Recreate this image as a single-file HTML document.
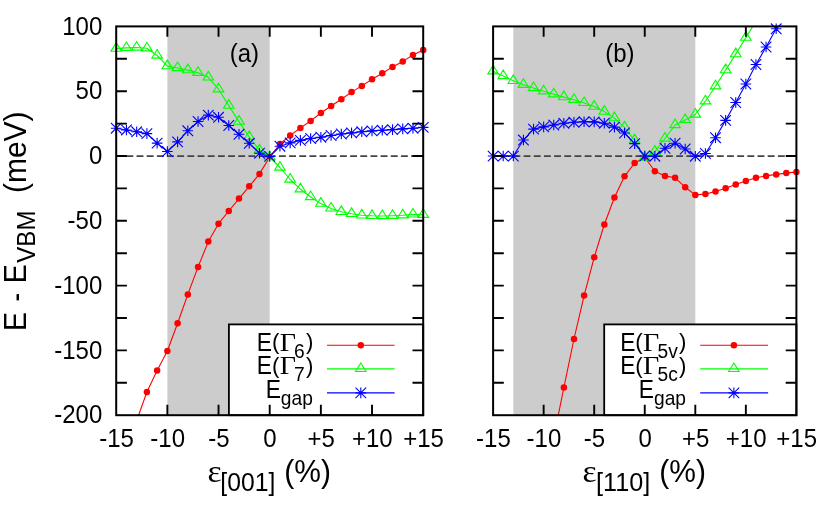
<!DOCTYPE html>
<html><head><meta charset="utf-8"><title>chart</title>
<style>
html,body{margin:0;padding:0;background:#fff;}
svg{display:block;will-change:transform;}
text{font-family:"Liberation Sans",sans-serif;fill:#000;}
text.sf,tspan.sf{font-family:"Liberation Serif",serif;}
</style></head><body>
<svg width="830" height="515" viewBox="0 0 830 515">
<rect width="830" height="515" fill="#fff"/>
<defs>
<clipPath id="ca"><rect x="116.2" y="26.4" width="307" height="388.8"/></clipPath>
<clipPath id="cb"><rect x="493.1" y="26.4" width="303.3" height="388.8"/></clipPath>
</defs>
<rect x="167.37" y="26.4" width="102.33" height="388.8" fill="#cccccc"/>
<rect x="513.32" y="26.4" width="181.98" height="388.8" fill="#cccccc"/>
<path d="M116.2,156.15H423.2" stroke="#444444" stroke-width="1.6" stroke-dasharray="6.9 3.27" fill="none"/>
<path d="M493.1,156.15H796.4" stroke="#444444" stroke-width="1.6" stroke-dasharray="6.9 3.27" fill="none"/>
<g clip-path="url(#ca)"><polyline points="136.67,420.6 146.9,392 157.13,370.5 167.37,351 177.6,323.2 187.83,294.4 198.07,266.9 208.3,241.6 218.53,223.7 228.77,211 239,198.6 249.23,186.3 259.47,173.9 269.7,157 279.93,144 290.17,135.4 300.4,128 310.63,120.9 320.87,113 331.1,106 341.33,99.3 351.57,92.1 361.8,85.9 372.03,79.3 382.27,73.2 392.5,66.9 402.73,61.4 412.97,55 423.2,50" fill="none" stroke="#ff0000" stroke-width="1.1" stroke-linejoin="round"/></g>
<circle cx="146.9" cy="392" r="3.25" fill="#ff0000"/>
<circle cx="157.13" cy="370.5" r="3.25" fill="#ff0000"/>
<circle cx="167.37" cy="351" r="3.25" fill="#ff0000"/>
<circle cx="177.6" cy="323.2" r="3.25" fill="#ff0000"/>
<circle cx="187.83" cy="294.4" r="3.25" fill="#ff0000"/>
<circle cx="198.07" cy="266.9" r="3.25" fill="#ff0000"/>
<circle cx="208.3" cy="241.6" r="3.25" fill="#ff0000"/>
<circle cx="218.53" cy="223.7" r="3.25" fill="#ff0000"/>
<circle cx="228.77" cy="211" r="3.25" fill="#ff0000"/>
<circle cx="239" cy="198.6" r="3.25" fill="#ff0000"/>
<circle cx="249.23" cy="186.3" r="3.25" fill="#ff0000"/>
<circle cx="259.47" cy="173.9" r="3.25" fill="#ff0000"/>
<circle cx="269.7" cy="157" r="3.25" fill="#ff0000"/>
<circle cx="279.93" cy="144" r="3.25" fill="#ff0000"/>
<circle cx="290.17" cy="135.4" r="3.25" fill="#ff0000"/>
<circle cx="300.4" cy="128" r="3.25" fill="#ff0000"/>
<circle cx="310.63" cy="120.9" r="3.25" fill="#ff0000"/>
<circle cx="320.87" cy="113" r="3.25" fill="#ff0000"/>
<circle cx="331.1" cy="106" r="3.25" fill="#ff0000"/>
<circle cx="341.33" cy="99.3" r="3.25" fill="#ff0000"/>
<circle cx="351.57" cy="92.1" r="3.25" fill="#ff0000"/>
<circle cx="361.8" cy="85.9" r="3.25" fill="#ff0000"/>
<circle cx="372.03" cy="79.3" r="3.25" fill="#ff0000"/>
<circle cx="382.27" cy="73.2" r="3.25" fill="#ff0000"/>
<circle cx="392.5" cy="66.9" r="3.25" fill="#ff0000"/>
<circle cx="402.73" cy="61.4" r="3.25" fill="#ff0000"/>
<circle cx="412.97" cy="55" r="3.25" fill="#ff0000"/>
<circle cx="423.2" cy="50" r="3.25" fill="#ff0000"/>
<g clip-path="url(#ca)"><polyline points="116.2,48.6 126.43,47.9 136.67,47.5 146.9,48.2 157.13,55.5 167.37,66.1 177.6,68 187.83,70.1 198.07,72.7 208.3,77.3 218.53,89.2 228.77,105.6 239,121.6 249.23,137 259.47,150.2 269.7,157 279.93,167.5 290.17,179.5 300.4,189.2 310.63,197 320.87,203.6 331.1,208.4 341.33,211.8 351.57,213.8 361.8,215.3 372.03,215.8 382.27,216 392.5,215.7 402.73,215.2 412.97,214.4 423.2,214.7" fill="none" stroke="#00ff00" stroke-width="1.1" stroke-linejoin="round"/></g>
<path d="M116.2,42.66L110.9,51.25L121.5,51.25ZM126.43,41.96L121.13,50.55L131.73,50.55ZM136.67,41.56L131.37,50.15L141.97,50.15ZM146.9,42.26L141.6,50.85L152.2,50.85ZM157.13,49.56L151.83,58.15L162.43,58.15ZM167.37,60.16L162.07,68.75L172.67,68.75ZM177.6,62.06L172.3,70.65L182.9,70.65ZM187.83,64.16L182.53,72.75L193.13,72.75ZM198.07,66.76L192.77,75.35L203.37,75.35ZM208.3,71.36L203,79.95L213.6,79.95ZM218.53,83.26L213.23,91.85L223.83,91.85ZM228.77,99.66L223.47,108.25L234.07,108.25ZM239,115.66L233.7,124.25L244.3,124.25ZM249.23,131.06L243.93,139.65L254.53,139.65ZM259.47,144.26L254.17,152.85L264.77,152.85ZM269.7,151.06L264.4,159.65L275,159.65ZM279.93,161.56L274.63,170.15L285.23,170.15ZM290.17,173.56L284.87,182.15L295.47,182.15ZM300.4,183.26L295.1,191.85L305.7,191.85ZM310.63,191.06L305.33,199.65L315.93,199.65ZM320.87,197.66L315.57,206.25L326.17,206.25ZM331.1,202.46L325.8,211.05L336.4,211.05ZM341.33,205.86L336.03,214.45L346.63,214.45ZM351.57,207.86L346.27,216.45L356.87,216.45ZM361.8,209.36L356.5,217.95L367.1,217.95ZM372.03,209.86L366.73,218.45L377.33,218.45ZM382.27,210.06L376.97,218.65L387.57,218.65ZM392.5,209.76L387.2,218.35L397.8,218.35ZM402.73,209.26L397.43,217.85L408.03,217.85ZM412.97,208.46L407.67,217.05L418.27,217.05ZM423.2,208.76L417.9,217.35L428.5,217.35Z" fill="none" stroke="#00ff00" stroke-width="1.1" stroke-linejoin="miter"/>
<g clip-path="url(#ca)"><polyline points="116.2,128.2 126.43,129.95 136.67,131.8 146.9,133.6 157.13,143.1 167.37,151.5 177.6,141.9 187.83,130.8 198.07,121.5 208.3,115.1 218.53,117.3 228.77,125.5 239,134.3 249.23,143.3 259.47,153.2 269.7,156.4 279.93,146.2 290.17,142.9 300.4,140.4 310.63,138.5 320.87,137.2 331.1,135.5 341.33,134 351.57,132.9 361.8,131.8 372.03,130.9 382.27,130.3 392.5,129.6 402.73,128.9 412.97,128.2 423.2,127.4" fill="none" stroke="#0000ff" stroke-width="1.1" stroke-linejoin="round"/></g>
<path d="M110.9,128.2H121.5M116.2,122.9V133.5M110.9,122.9L121.5,133.5M110.9,133.5L121.5,122.9M121.13,129.95H131.73M126.43,124.65V135.25M121.13,124.65L131.73,135.25M121.13,135.25L131.73,124.65M131.37,131.8H141.97M136.67,126.5V137.1M131.37,126.5L141.97,137.1M131.37,137.1L141.97,126.5M141.6,133.6H152.2M146.9,128.3V138.9M141.6,128.3L152.2,138.9M141.6,138.9L152.2,128.3M151.83,143.1H162.43M157.13,137.8V148.4M151.83,137.8L162.43,148.4M151.83,148.4L162.43,137.8M162.07,151.5H172.67M167.37,146.2V156.8M162.07,146.2L172.67,156.8M162.07,156.8L172.67,146.2M172.3,141.9H182.9M177.6,136.6V147.2M172.3,136.6L182.9,147.2M172.3,147.2L182.9,136.6M182.53,130.8H193.13M187.83,125.5V136.1M182.53,125.5L193.13,136.1M182.53,136.1L193.13,125.5M192.77,121.5H203.37M198.07,116.2V126.8M192.77,116.2L203.37,126.8M192.77,126.8L203.37,116.2M203,115.1H213.6M208.3,109.8V120.4M203,109.8L213.6,120.4M203,120.4L213.6,109.8M213.23,117.3H223.83M218.53,112V122.6M213.23,112L223.83,122.6M213.23,122.6L223.83,112M223.47,125.5H234.07M228.77,120.2V130.8M223.47,120.2L234.07,130.8M223.47,130.8L234.07,120.2M233.7,134.3H244.3M239,129V139.6M233.7,129L244.3,139.6M233.7,139.6L244.3,129M243.93,143.3H254.53M249.23,138V148.6M243.93,138L254.53,148.6M243.93,148.6L254.53,138M254.17,153.2H264.77M259.47,147.9V158.5M254.17,147.9L264.77,158.5M254.17,158.5L264.77,147.9M264.4,156.4H275M269.7,151.1V161.7M264.4,151.1L275,161.7M264.4,161.7L275,151.1M274.63,146.2H285.23M279.93,140.9V151.5M274.63,140.9L285.23,151.5M274.63,151.5L285.23,140.9M284.87,142.9H295.47M290.17,137.6V148.2M284.87,137.6L295.47,148.2M284.87,148.2L295.47,137.6M295.1,140.4H305.7M300.4,135.1V145.7M295.1,135.1L305.7,145.7M295.1,145.7L305.7,135.1M305.33,138.5H315.93M310.63,133.2V143.8M305.33,133.2L315.93,143.8M305.33,143.8L315.93,133.2M315.57,137.2H326.17M320.87,131.9V142.5M315.57,131.9L326.17,142.5M315.57,142.5L326.17,131.9M325.8,135.5H336.4M331.1,130.2V140.8M325.8,130.2L336.4,140.8M325.8,140.8L336.4,130.2M336.03,134H346.63M341.33,128.7V139.3M336.03,128.7L346.63,139.3M336.03,139.3L346.63,128.7M346.27,132.9H356.87M351.57,127.6V138.2M346.27,127.6L356.87,138.2M346.27,138.2L356.87,127.6M356.5,131.8H367.1M361.8,126.5V137.1M356.5,126.5L367.1,137.1M356.5,137.1L367.1,126.5M366.73,130.9H377.33M372.03,125.6V136.2M366.73,125.6L377.33,136.2M366.73,136.2L377.33,125.6M376.97,130.3H387.57M382.27,125V135.6M376.97,125L387.57,135.6M376.97,135.6L387.57,125M387.2,129.6H397.8M392.5,124.3V134.9M387.2,124.3L397.8,134.9M387.2,134.9L397.8,124.3M397.43,128.9H408.03M402.73,123.6V134.2M397.43,123.6L408.03,134.2M397.43,134.2L408.03,123.6M407.67,128.2H418.27M412.97,122.9V133.5M407.67,122.9L418.27,133.5M407.67,133.5L418.27,122.9M417.9,127.4H428.5M423.2,122.1V132.7M417.9,122.1L428.5,132.7M417.9,132.7L428.5,122.1" fill="none" stroke="#0000ff" stroke-width="1.1"/>
<g clip-path="url(#cb)"><polyline points="553.76,437.5 563.87,387.5 573.98,339 584.09,295.6 594.2,257.3 604.31,224.5 614.42,197.5 624.53,176.3 634.64,163 644.75,157.2 654.86,171.2 664.97,175.9 675.08,177.8 685.19,187.2 695.3,194.9 705.41,194 715.52,191.6 725.63,188.25 735.74,184.6 745.85,181.1 755.96,177.8 766.07,175.9 776.18,174.4 786.29,173.1 796.4,171.9" fill="none" stroke="#ff0000" stroke-width="1.1" stroke-linejoin="round"/></g>
<circle cx="563.87" cy="387.5" r="3.25" fill="#ff0000"/>
<circle cx="573.98" cy="339" r="3.25" fill="#ff0000"/>
<circle cx="584.09" cy="295.6" r="3.25" fill="#ff0000"/>
<circle cx="594.2" cy="257.3" r="3.25" fill="#ff0000"/>
<circle cx="604.31" cy="224.5" r="3.25" fill="#ff0000"/>
<circle cx="614.42" cy="197.5" r="3.25" fill="#ff0000"/>
<circle cx="624.53" cy="176.3" r="3.25" fill="#ff0000"/>
<circle cx="634.64" cy="163" r="3.25" fill="#ff0000"/>
<circle cx="644.75" cy="157.2" r="3.25" fill="#ff0000"/>
<circle cx="654.86" cy="171.2" r="3.25" fill="#ff0000"/>
<circle cx="664.97" cy="175.9" r="3.25" fill="#ff0000"/>
<circle cx="675.08" cy="177.8" r="3.25" fill="#ff0000"/>
<circle cx="685.19" cy="187.2" r="3.25" fill="#ff0000"/>
<circle cx="695.3" cy="194.9" r="3.25" fill="#ff0000"/>
<circle cx="705.41" cy="194" r="3.25" fill="#ff0000"/>
<circle cx="715.52" cy="191.6" r="3.25" fill="#ff0000"/>
<circle cx="725.63" cy="188.25" r="3.25" fill="#ff0000"/>
<circle cx="735.74" cy="184.6" r="3.25" fill="#ff0000"/>
<circle cx="745.85" cy="181.1" r="3.25" fill="#ff0000"/>
<circle cx="755.96" cy="177.8" r="3.25" fill="#ff0000"/>
<circle cx="766.07" cy="175.9" r="3.25" fill="#ff0000"/>
<circle cx="776.18" cy="174.4" r="3.25" fill="#ff0000"/>
<circle cx="786.29" cy="173.1" r="3.25" fill="#ff0000"/>
<circle cx="796.4" cy="171.9" r="3.25" fill="#ff0000"/>
<g clip-path="url(#cb)"><polyline points="493.1,71.2 503.21,76 513.32,80.8 523.43,84.7 533.54,88 543.65,91.25 553.76,94.2 563.87,97.1 573.98,99.7 584.09,102.9 594.2,106.6 604.31,111.6 614.42,118.1 624.53,127.3 634.64,140.3 644.75,157.5 654.86,151.6 664.97,138.5 675.08,125 685.19,119.9 695.3,114.5 705.41,101.2 715.52,86.2 725.63,70.1 735.74,54.1 745.85,37.6 755.96,21.3" fill="none" stroke="#00ff00" stroke-width="1.1" stroke-linejoin="round"/></g>
<path d="M493.1,65.26L487.8,73.85L498.4,73.85ZM503.21,70.06L497.91,78.65L508.51,78.65ZM513.32,74.86L508.02,83.45L518.62,83.45ZM523.43,78.76L518.13,87.35L528.73,87.35ZM533.54,82.06L528.24,90.65L538.84,90.65ZM543.65,85.31L538.35,93.9L548.95,93.9ZM553.76,88.26L548.46,96.85L559.06,96.85ZM563.87,91.16L558.57,99.75L569.17,99.75ZM573.98,93.76L568.68,102.35L579.28,102.35ZM584.09,96.96L578.79,105.55L589.39,105.55ZM594.2,100.66L588.9,109.25L599.5,109.25ZM604.31,105.66L599.01,114.25L609.61,114.25ZM614.42,112.16L609.12,120.75L619.72,120.75ZM624.53,121.36L619.23,129.95L629.83,129.95ZM634.64,134.36L629.34,142.95L639.94,142.95ZM644.75,151.56L639.45,160.15L650.05,160.15ZM654.86,145.66L649.56,154.25L660.16,154.25ZM664.97,132.56L659.67,141.15L670.27,141.15ZM675.08,119.06L669.78,127.65L680.38,127.65ZM685.19,113.96L679.89,122.55L690.49,122.55ZM695.3,108.56L690,117.15L700.6,117.15ZM705.41,95.26L700.11,103.85L710.71,103.85ZM715.52,80.26L710.22,88.85L720.82,88.85ZM725.63,64.16L720.33,72.75L730.93,72.75ZM735.74,48.16L730.44,56.75L741.04,56.75ZM745.85,31.66L740.55,40.25L751.15,40.25Z" fill="none" stroke="#00ff00" stroke-width="1.1" stroke-linejoin="miter"/>
<g clip-path="url(#cb)"><polyline points="493.1,156.07 503.21,156.07 513.32,156.07 523.43,140.05 533.54,129.1 543.65,126.9 553.76,125.05 563.87,123.3 573.98,122.3 584.09,121.8 594.2,121.9 604.31,123.2 614.42,127.1 624.53,133 634.64,143.6 644.75,156 654.86,156.2 664.97,148.25 675.08,143.2 685.19,149 695.3,156.2 705.41,153.5 715.52,137.7 725.63,120.4 735.74,102.5 745.85,84 755.96,64.5 766.07,47 776.18,28.8 786.29,10" fill="none" stroke="#0000ff" stroke-width="1.1" stroke-linejoin="round"/></g>
<path d="M487.8,156.07H498.4M493.1,150.77V161.37M487.8,150.77L498.4,161.37M487.8,161.37L498.4,150.77M497.91,156.07H508.51M503.21,150.77V161.37M497.91,150.77L508.51,161.37M497.91,161.37L508.51,150.77M508.02,156.07H518.62M513.32,150.77V161.37M508.02,150.77L518.62,161.37M508.02,161.37L518.62,150.77M518.13,140.05H528.73M523.43,134.75V145.35M518.13,134.75L528.73,145.35M518.13,145.35L528.73,134.75M528.24,129.1H538.84M533.54,123.8V134.4M528.24,123.8L538.84,134.4M528.24,134.4L538.84,123.8M538.35,126.9H548.95M543.65,121.6V132.2M538.35,121.6L548.95,132.2M538.35,132.2L548.95,121.6M548.46,125.05H559.06M553.76,119.75V130.35M548.46,119.75L559.06,130.35M548.46,130.35L559.06,119.75M558.57,123.3H569.17M563.87,118V128.6M558.57,118L569.17,128.6M558.57,128.6L569.17,118M568.68,122.3H579.28M573.98,117V127.6M568.68,117L579.28,127.6M568.68,127.6L579.28,117M578.79,121.8H589.39M584.09,116.5V127.1M578.79,116.5L589.39,127.1M578.79,127.1L589.39,116.5M588.9,121.9H599.5M594.2,116.6V127.2M588.9,116.6L599.5,127.2M588.9,127.2L599.5,116.6M599.01,123.2H609.61M604.31,117.9V128.5M599.01,117.9L609.61,128.5M599.01,128.5L609.61,117.9M609.12,127.1H619.72M614.42,121.8V132.4M609.12,121.8L619.72,132.4M609.12,132.4L619.72,121.8M619.23,133H629.83M624.53,127.7V138.3M619.23,127.7L629.83,138.3M619.23,138.3L629.83,127.7M629.34,143.6H639.94M634.64,138.3V148.9M629.34,138.3L639.94,148.9M629.34,148.9L639.94,138.3M639.45,156H650.05M644.75,150.7V161.3M639.45,150.7L650.05,161.3M639.45,161.3L650.05,150.7M649.56,156.2H660.16M654.86,150.9V161.5M649.56,150.9L660.16,161.5M649.56,161.5L660.16,150.9M659.67,148.25H670.27M664.97,142.95V153.55M659.67,142.95L670.27,153.55M659.67,153.55L670.27,142.95M669.78,143.2H680.38M675.08,137.9V148.5M669.78,137.9L680.38,148.5M669.78,148.5L680.38,137.9M679.89,149H690.49M685.19,143.7V154.3M679.89,143.7L690.49,154.3M679.89,154.3L690.49,143.7M690,156.2H700.6M695.3,150.9V161.5M690,150.9L700.6,161.5M690,161.5L700.6,150.9M700.11,153.5H710.71M705.41,148.2V158.8M700.11,148.2L710.71,158.8M700.11,158.8L710.71,148.2M710.22,137.7H720.82M715.52,132.4V143M710.22,132.4L720.82,143M710.22,143L720.82,132.4M720.33,120.4H730.93M725.63,115.1V125.7M720.33,115.1L730.93,125.7M720.33,125.7L730.93,115.1M730.44,102.5H741.04M735.74,97.2V107.8M730.44,97.2L741.04,107.8M730.44,107.8L741.04,97.2M740.55,84H751.15M745.85,78.7V89.3M740.55,78.7L751.15,89.3M740.55,89.3L751.15,78.7M750.66,64.5H761.26M755.96,59.2V69.8M750.66,59.2L761.26,69.8M750.66,69.8L761.26,59.2M760.77,47H771.37M766.07,41.7V52.3M760.77,41.7L771.37,52.3M760.77,52.3L771.37,41.7M770.88,28.8H781.48M776.18,23.5V34.1M770.88,23.5L781.48,34.1M770.88,34.1L781.48,23.5" fill="none" stroke="#0000ff" stroke-width="1.1"/>
<rect x="228.9" y="324.4" width="194.3" height="90.8" fill="#fff" stroke="#000" stroke-width="1.8"/>
<path d="M327,345.25H394.6" stroke="#ff0000" stroke-width="1.1" fill="none"/>
<circle cx="360.8" cy="345.25" r="3.25" fill="#ff0000"/>
<text transform="translate(256.83,350.5) scale(0.95,1.06)" font-size="24">E</text>
<text x="271.92" y="349" font-size="22.2">(</text>
<text transform="translate(279.79,350.5) scale(1.115,1.0)" font-size="25.2" class="sf">&#915;</text>
<text transform="translate(294.02,357.5) scale(1.0,1.06)" font-size="19.2">6</text>
<text x="306.07" y="349" font-size="22.2">)</text>
<path d="M327,368.9H394.6" stroke="#00ff00" stroke-width="1.1" fill="none"/>
<path d="M360.8,362.96L355.5,371.55L366.1,371.55Z" fill="none" stroke="#00ff00" stroke-width="1.1"/>
<text transform="translate(256.83,374.15) scale(0.95,1.06)" font-size="24">E</text>
<text x="271.92" y="372.65" font-size="22.2">(</text>
<text transform="translate(279.79,374.15) scale(1.115,1.0)" font-size="25.2" class="sf">&#915;</text>
<text transform="translate(294.02,381.15) scale(1.0,1.06)" font-size="19.2">7</text>
<text x="306.07" y="372.65" font-size="22.2">)</text>
<path d="M327,392.9H394.6" stroke="#0000ff" stroke-width="1.1" fill="none"/>
<path d="M355.5,392.9H366.1M360.8,387.6V398.2M355.5,387.6L366.1,398.2M355.5,398.2L366.1,387.6" fill="none" stroke="#0000ff" stroke-width="1.1"/>
<text transform="translate(265.63,398.15) scale(0.95,1.06)" font-size="24">E</text>
<text transform="translate(280.79,405.15) scale(1.0,1.06)" font-size="19.2">gap</text>
<rect x="604.2" y="324.4" width="192.2" height="90.8" fill="#fff" stroke="#000" stroke-width="1.8"/>
<path d="M700.2,345.25H768.1" stroke="#ff0000" stroke-width="1.1" fill="none"/>
<circle cx="733.9" cy="345.25" r="3.25" fill="#ff0000"/>
<text transform="translate(620.13,350.5) scale(0.95,1.06)" font-size="24">E</text>
<text x="635.22" y="349" font-size="22.2">(</text>
<text transform="translate(643.09,350.5) scale(1.115,1.0)" font-size="25.2" class="sf">&#915;</text>
<text transform="translate(657.53,357.5) scale(1.0,1.06)" font-size="19.2">5v</text>
<text x="679.07" y="349" font-size="22.2">)</text>
<path d="M700.2,368.9H768.1" stroke="#00ff00" stroke-width="1.1" fill="none"/>
<path d="M733.9,362.96L728.6,371.55L739.2,371.55Z" fill="none" stroke="#00ff00" stroke-width="1.1"/>
<text transform="translate(620.13,374.15) scale(0.95,1.06)" font-size="24">E</text>
<text x="635.22" y="372.65" font-size="22.2">(</text>
<text transform="translate(643.09,374.15) scale(1.115,1.0)" font-size="25.2" class="sf">&#915;</text>
<text transform="translate(657.53,381.15) scale(1.0,1.06)" font-size="19.2">5c</text>
<text x="679.07" y="372.65" font-size="22.2">)</text>
<path d="M700.2,392.9H768.1" stroke="#0000ff" stroke-width="1.1" fill="none"/>
<path d="M728.6,392.9H739.2M733.9,387.6V398.2M728.6,387.6L739.2,398.2M728.6,398.2L739.2,387.6" fill="none" stroke="#0000ff" stroke-width="1.1"/>
<text transform="translate(638.83,398.15) scale(0.95,1.06)" font-size="24">E</text>
<text transform="translate(653.99,405.15) scale(1.0,1.06)" font-size="19.2">gap</text>
<rect x="116.2" y="26.4" width="307" height="388.8" fill="none" stroke="#000" stroke-width="2.0"/>
<path d="M167.37,415.2V404.8M167.37,26.4V36.8M218.53,415.2V404.8M218.53,26.4V36.8M269.7,415.2V404.8M269.7,26.4V36.8M320.87,415.2V404.8M320.87,26.4V36.8M372.03,415.2V404.8M372.03,26.4V36.8M116.2,58.8H126.9M423.2,58.8H412.5M116.2,91.2H126.9M423.2,91.2H412.5M116.2,123.6H126.9M423.2,123.6H412.5M116.2,156H126.9M423.2,156H412.5M116.2,188.4H126.9M423.2,188.4H412.5M116.2,220.8H126.9M423.2,220.8H412.5M116.2,253.2H126.9M423.2,253.2H412.5M116.2,285.6H126.9M423.2,285.6H412.5M116.2,318H126.9M423.2,318H412.5M116.2,350.4H126.9M423.2,350.4H412.5M116.2,382.8H126.9M423.2,382.8H412.5" fill="none" stroke="#000" stroke-width="1.9"/>
<rect x="493.1" y="26.4" width="303.3" height="388.8" fill="none" stroke="#000" stroke-width="2.0"/>
<path d="M543.65,415.2V404.8M543.65,26.4V36.8M594.2,415.2V404.8M594.2,26.4V36.8M644.75,415.2V404.8M644.75,26.4V36.8M695.3,415.2V404.8M695.3,26.4V36.8M745.85,415.2V404.8M745.85,26.4V36.8M493.1,58.8H503.8M796.4,58.8H785.7M493.1,91.2H503.8M796.4,91.2H785.7M493.1,123.6H503.8M796.4,123.6H785.7M493.1,156H503.8M796.4,156H785.7M493.1,188.4H503.8M796.4,188.4H785.7M493.1,220.8H503.8M796.4,220.8H785.7M493.1,253.2H503.8M796.4,253.2H785.7M493.1,285.6H503.8M796.4,285.6H785.7M493.1,318H503.8M796.4,318H785.7M493.1,350.4H503.8M796.4,350.4H785.7M493.1,382.8H503.8M796.4,382.8H785.7" fill="none" stroke="#000" stroke-width="1.9"/>
<text transform="translate(102.3,34.55) scale(1.0,1.06)" font-size="24" text-anchor="end">100</text>
<text transform="translate(102.3,99.35) scale(1.0,1.06)" font-size="24" text-anchor="end">50</text>
<text transform="translate(102.3,164.15) scale(1.0,1.06)" font-size="24" text-anchor="end">0</text>
<text transform="translate(102.3,228.95) scale(1.0,1.06)" font-size="24" text-anchor="end">-50</text>
<text transform="translate(102.3,293.75) scale(1.0,1.06)" font-size="24" text-anchor="end">-100</text>
<text transform="translate(102.3,358.55) scale(1.0,1.06)" font-size="24" text-anchor="end">-150</text>
<text transform="translate(102.3,423.35) scale(1.0,1.06)" font-size="24" text-anchor="end">-200</text>
<text transform="translate(116.5,447.1) scale(1.0,1.06)" font-size="24" text-anchor="middle">-15</text>
<text transform="translate(167.67,447.1) scale(1.0,1.06)" font-size="24" text-anchor="middle">-10</text>
<text transform="translate(218.83,447.1) scale(1.0,1.06)" font-size="24" text-anchor="middle">-5</text>
<text transform="translate(270,447.1) scale(1.0,1.06)" font-size="24" text-anchor="middle">0</text>
<text transform="translate(321.17,447.1) scale(1.0,1.06)" font-size="24" text-anchor="middle">+5</text>
<text transform="translate(372.33,447.1) scale(1.0,1.06)" font-size="24" text-anchor="middle">+10</text>
<text transform="translate(423.5,447.1) scale(1.0,1.06)" font-size="24" text-anchor="middle">+15</text>
<text transform="translate(493.4,447.1) scale(1.0,1.06)" font-size="24" text-anchor="middle">-15</text>
<text transform="translate(543.95,447.1) scale(1.0,1.06)" font-size="24" text-anchor="middle">-10</text>
<text transform="translate(594.5,447.1) scale(1.0,1.06)" font-size="24" text-anchor="middle">-5</text>
<text transform="translate(645.05,447.1) scale(1.0,1.06)" font-size="24" text-anchor="middle">0</text>
<text transform="translate(695.6,447.1) scale(1.0,1.06)" font-size="24" text-anchor="middle">+5</text>
<text transform="translate(746.15,447.1) scale(1.0,1.06)" font-size="24" text-anchor="middle">+10</text>
<text transform="translate(796.7,447.1) scale(1.0,1.06)" font-size="24" text-anchor="middle">+15</text>
<text transform="translate(244.4,62) scale(1.0,1.06)" font-size="24" text-anchor="middle">(a)</text>
<text transform="translate(619.8,61.8) scale(1.0,1.06)" font-size="24" text-anchor="middle">(b)</text>
<text transform="translate(207.41,481.8) scale(1.03,1.0)" font-size="32.5" class="sf">&#949;</text>
<text transform="translate(220.34,491.2) scale(1.03,1.06)" font-size="24">[001]</text>
<text transform="translate(284.24,482) scale(1.0,1.06)" font-size="30">(%)</text>
<text transform="translate(582.41,481.8) scale(1.03,1.0)" font-size="32.5" class="sf">&#949;</text>
<text transform="translate(596,491.2) scale(1.05,1.06)" font-size="24">[110]</text>
<text transform="translate(659.24,482) scale(1.0,1.06)" font-size="30">(%)</text>
<text transform="translate(26,331.04) rotate(-90) scale(0.953,1.06)" font-size="30">E</text>
<text transform="translate(26,301.55) rotate(-90) scale(0.86,1.06)" font-size="30">-</text>
<text transform="translate(26,283.34) rotate(-90) scale(0.953,1.06)" font-size="30">E</text>
<text transform="translate(34.95,262.71) rotate(-90) scale(1.005,1.06)" font-size="24">VBM</text>
<text transform="translate(26,193.06) rotate(-90) scale(1.0,1.06)" font-size="30">(meV)</text>
</svg></body></html>
